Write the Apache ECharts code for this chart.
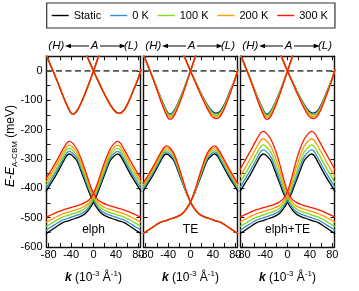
<!DOCTYPE html>
<html><head><meta charset="utf-8">
<script src="https://cdn.jsdelivr.net/npm/echarts@6/dist/echarts.min.js"></script>
<style>html,body{margin:0;padding:0;background:#fff}#c{width:359px;height:291px}</style>
</head><body><div id="c"></div>
<script>
// ---- data (k in 1e-3 1/Å, E in meV) ----
const seriesNames = ['Static', '0 K', '100 K', '200 K', '300 K'];
const panelNames = ['elph', 'TE', 'elph+TE'];
const xTickValues = [-80, -60, -40, -20, 0, 20, 40, 60, 80];
const xLabelValues = [-80, -40, 0, 40, 80];

// valence branch with its maximum at negative k (other branch is its mirror in k)
const kValence = [-85,-75,-65,-55,-48,-43,-38,-30,-22,-15,-8,0,8,15,22,30,38,45,55,65,75,85];
const valStatic = [-411,-380,-348,-313,-289,-283,-288,-305,-343,-378,-413,-447,-472,-487,-495,-501,-506,-511,-517,-529,-542,-555];
const valElph0   = [-401,-370,-338,-303,-280,-274,-279,-296,-334,-369,-405,-440,-465,-478,-486,-492,-497,-502,-508,-519,-531,-543];
const valElph100 = [-391,-360,-328,-293,-270,-264,-269,-287,-324,-360,-397,-433,-458,-469,-477,-483,-487,-492,-498,-508,-519,-530];
const valElph200 = [-380,-349,-316,-281,-259,-253,-258,-277,-313,-349,-388,-426,-450,-460,-467,-472,-477,-481,-487,-496,-506,-516];
const valElph300 = [-367,-336,-303,-268,-246,-240,-245,-265,-300,-337,-378,-417,-440,-448,-455,-460,-464,-468,-474,-481,-490,-499];
const valTE0   = [-404,-373,-341,-306,-282,-276,-281,-299,-337,-374,-411,-447,-472,-487,-495,-501,-506,-511,-517,-529,-542,-555];
const valTE100 = [-398,-366,-334,-298,-275,-269,-274,-292,-331,-370,-409,-447,-472,-487,-495,-501,-506,-511,-517,-529,-542,-555];
const valTE200 = [-391,-360,-327,-291,-269,-262,-267,-286,-326,-366,-408,-447,-472,-487,-495,-501,-506,-511,-517,-529,-542,-555];
const valTE300 = [-385,-353,-320,-284,-262,-255,-260,-280,-320,-362,-406,-447,-472,-487,-495,-501,-506,-511,-517,-529,-542,-555];
const valBoth0   = [-398,-366,-334,-299,-275,-269,-274,-292,-329,-366,-403,-440,-464,-478,-486,-492,-497,-502,-508,-519,-531,-543];
const valBoth100 = [-381,-349,-316,-281,-258,-252,-258,-276,-313,-351,-392,-432,-456,-469,-477,-482,-487,-492,-498,-507,-519,-530];
const valBoth200 = [-361,-328,-294,-259,-237,-231,-237,-256,-293,-332,-377,-422,-447,-459,-466,-472,-476,-480,-486,-495,-505,-515];
const valBoth300 = [-337,-302,-268,-233,-211,-206,-212,-232,-268,-310,-360,-411,-437,-447,-454,-459,-463,-467,-473,-480,-489,-498];

// conduction branch with minimum at negative k
const kCondL = [-85,-80,-75,-70,-65,-60,-55,-50,-45,-41,-37,-33,-28,-22,-15,-8,0,6,12];
const condLStatic = [58,34,12,-10,-34,-58,-83,-106,-127,-141,-147,-144,-131,-108,-77,-42,0,33,66];
const condL0   = [58,34,12,-10,-35,-59,-84,-107,-128,-142,-148,-145,-132,-109,-78,-42,0,33,66];
const condL100 = [59,35,13,-10,-35,-60,-86,-110,-132,-147,-153,-150,-136,-112,-80,-43,0,34,67];
const condL200 = [60,36,13,-10,-36,-61,-88,-113,-136,-152,-158,-155,-141,-116,-83,-45,0,34,68];
const condL300 = [62,38,14,-11,-38,-64,-92,-118,-142,-158,-165,-162,-148,-122,-87,-47,0,35,70];
// conduction branch with minimum at positive k
const kCondR = [-14,-8,0,8,16,24,31,37,42,46,50,55,61,67,73,79,85];
const condRStatic = [62,35,0,-33,-65,-95,-118,-134,-142,-144,-142,-133,-112,-86,-58,-30,6];
const condR0   = [62,35,0,-33,-65,-96,-119,-136,-144,-146,-144,-135,-114,-87,-59,-30,6];
const condR100 = [63,36,0,-34,-67,-98,-123,-140,-148,-150,-148,-139,-117,-90,-61,-31,6];
const condR200 = [64,36,0,-35,-69,-101,-127,-145,-153,-155,-153,-143,-121,-93,-63,-32,6];
const condR300 = [65,37,0,-36,-72,-105,-132,-151,-160,-162,-160,-149,-126,-97,-66,-33,6];

const panelsData = [
  { val: [valStatic, valElph0, valElph100, valElph200, valElph300],
    cL: [condLStatic, condLStatic, condLStatic, condLStatic, condLStatic],
    cR: [condRStatic, condRStatic, condRStatic, condRStatic, condRStatic] },
  { val: [valStatic, valTE0, valTE100, valTE200, valTE300],
    cL: [condLStatic, condL0, condL100, condL200, condL300],
    cR: [condRStatic, condR0, condR100, condR200, condR300] },
  { val: [valStatic, valBoth0, valBoth100, valBoth200, valBoth300],
    cL: [condLStatic, condL0, condL100, condL200, condL300],
    cR: [condRStatic, condR0, condR100, condR200, condR300] }
];

// ---- styling / layout ----
const FONT = '"Liberation Sans", Arial, Helvetica, sans-serif';
const colors = ['#000000', '#2f8fd8', '#7ddc14', '#ff9c00', '#ff1a00'];
const LEFTS = [46.5, 143.5, 240.5];
const PW = 94, TOP = 56.3, PH = 190.7;

const chart = echarts.init(document.getElementById('c'), null, {renderer: 'canvas'});
const grids = [], xAxes = [], yAxes = [], series = [], graphics = [];
const frameLine = {show: true, onZero: false, lineStyle: {color: '#111', width: 1.4}};

LEFTS.forEach((L, p) => {
  grids.push({left: L, top: TOP, width: PW, height: PH, show: false});
  const xb = {gridIndex: p, type: 'value', min: -84, max: 84, position: 'bottom',
    axisLine: frameLine, splitLine: {show: false},
    axisTick: {inside: true, length: 4, customValues: xTickValues, lineStyle: {color: '#111'}},
    axisLabel: {customValues: xLabelValues, fontSize: 11, color: '#000', margin: 2, fontFamily: FONT},
    name: '{k|k} (10{s|-3} Å{s|-1})', nameLocation: 'middle', nameGap: 23,
    nameTextStyle: {fontSize: 12, color: '#000', fontFamily: FONT, lineHeight: 16,
      rich: {k: {fontSize: 12, fontWeight: 'bold', fontStyle: 'italic', lineHeight: 16, fontFamily: FONT},
             s: {fontSize: 8, lineHeight: 8, verticalAlign: 'top', fontFamily: FONT}}}};
  const xt = {gridIndex: p, type: 'value', min: -84, max: 84, position: 'top',
    axisLine: frameLine, splitLine: {show: false},
    axisTick: {inside: true, length: 4, customValues: xTickValues, lineStyle: {color: '#111'}},
    axisLabel: {show: false}};
  xAxes.push(xb, xt);
  const yl = {gridIndex: p, type: 'value', min: -600, max: 50, interval: 50, position: 'left',
    axisLine: frameLine, splitLine: {show: false},
    axisTick: {inside: true, length: 4, lineStyle: {color: '#111'}},
    axisLabel: {show: p === 0, fontSize: 11, color: '#000', margin: 4, fontFamily: FONT,
      formatter: v => (v % 100 === 0 ? String(v) : '')}};
  const yr = {gridIndex: p, type: 'value', min: -600, max: 50, interval: 50, position: 'right',
    axisLine: frameLine, splitLine: {show: false},
    axisTick: {inside: true, length: 4, lineStyle: {color: '#111'}},
    axisLabel: {show: false}};
  yAxes.push(yl, yr);

  // zero reference line
  series.push({type: 'line', xAxisIndex: 2 * p, yAxisIndex: 2 * p, data: [[-84, 0], [84, 0]],
    symbol: 'none', silent: true, z: 1,
    lineStyle: {color: '#555', width: 1.7, type: [6, 3.5]}});

  // panel label
  graphics.push({type: 'text', x: L + PW / 2, y: 230, z: 100,
    style: {text: panelNames[p], fontSize: 12, fontFamily: FONT, fill: '#000',
      align: 'center', verticalAlign: 'middle', textAlign: 'center', textVerticalAlign: 'middle'}});

  // (H) <-- A --> (L) header
  const C = L + PW / 2, R = L + PW, Y = 46;
  const itStyle = {fontSize: 11.5, fontStyle: 'italic', fontFamily: FONT, fill: '#000', verticalAlign: 'middle', textVerticalAlign: 'middle'};
  graphics.push({type: 'text', x: L + 1.8, y: Y, style: Object.assign({text: '(H)', align: 'left', textAlign: 'left'}, itStyle)});
  graphics.push({type: 'text', x: C + 1, y: Y, style: Object.assign({text: 'A', align: 'center', textAlign: 'center'}, itStyle)});
  graphics.push({type: 'text', x: R - 2.5, y: Y, style: Object.assign({text: '(L)', align: 'right', textAlign: 'right'}, itStyle)});
  graphics.push({type: 'line', shape: {x1: L + 22, y1: Y, x2: C - 4.5, y2: Y}, style: {stroke: '#000', lineWidth: 1}});
  graphics.push({type: 'line', shape: {x1: C + 6.5, y1: Y, x2: R - 18, y2: Y}, style: {stroke: '#000', lineWidth: 1}});
  graphics.push({type: 'polygon', shape: {points: [[L + 18.5, Y], [L + 24.5, Y - 2.3], [L + 24.5, Y + 2.3]]}, style: {fill: '#000'}});
  graphics.push({type: 'polygon', shape: {points: [[R - 14.8, Y], [R - 20.8, Y - 2.3], [R - 20.8, Y + 2.3]]}, style: {fill: '#000'}});
});

for (let t = 0; t < 5; t++) {
  panelsData.forEach((pd, p) => {
    const base = {type: 'line', name: seriesNames[t], xAxisIndex: 2 * p, yAxisIndex: 2 * p,
      symbol: 'none', showSymbol: false, smooth: 0.3, clip: true, z: 2 + t,
      lineStyle: {color: colors[t], width: 1.3}, itemStyle: {color: colors[t]}};
    const v = pd.val[t], cl = pd.cL[t], cr = pd.cR[t];
    series.push(Object.assign({}, base, {data: kValence.map((k, i) => [k, v[i]])}));
    series.push(Object.assign({}, base, {data: kValence.map((k, i) => [-k, v[i]]).reverse()}));
    series.push(Object.assign({}, base, {data: kCondL.map((k, i) => [k, cl[i]])}));
    series.push(Object.assign({}, base, {data: kCondR.map((k, i) => [k, cr[i]])}));
  });
}

// y-axis title
graphics.push({type: 'text', x: 11, y: 146, rotation: Math.PI / 2,
  style: {text: '{i|E}-{i|E}{s|A-CBM} (meV)', fontSize: 12, fontFamily: FONT, fill: '#000',
    align: 'center', verticalAlign: 'middle', textAlign: 'center', textVerticalAlign: 'middle', lineHeight: 16,
    rich: {i: {fontSize: 12, fontStyle: 'italic', lineHeight: 16, fontFamily: FONT},
           s: {fontSize: 8, lineHeight: 8, verticalAlign: 'bottom', fontFamily: FONT}}}});

chart.setOption({
  animation: false,
  textStyle: {fontFamily: FONT},
  legend: {data: seriesNames.map((n, i) => ({name: n, icon: 'rect', itemStyle: {color: colors[i]}})),
    left: 46.7, top: 3, orient: 'horizontal',
    itemWidth: 17, itemHeight: 1.4, itemGap: 9, padding: [6, 7, 6, 5],
    borderColor: '#333', borderWidth: 1.2,
    textStyle: {fontSize: 11, color: '#000', fontFamily: FONT, lineHeight: 13}},
  grid: grids, xAxis: xAxes, yAxis: yAxes, series: series, graphic: graphics
});
</script></body></html>
